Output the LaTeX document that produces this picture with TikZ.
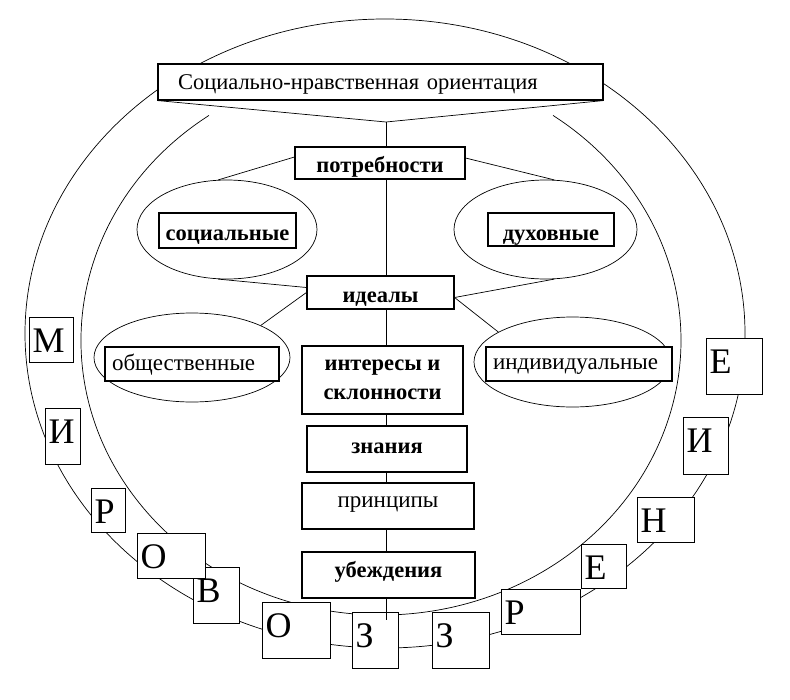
\documentclass[tikz,border=0pt]{standalone}
\usepackage{fontspec}
\setmainfont{Liberation Serif}
\usetikzlibrary{positioning,shapes.geometric,backgrounds}
\tikzset{
  mbox/.style  ={draw, fill=white, line width=1.1pt, inner sep=0pt, text depth=0pt,
                 font=\fontsize{23}{29}\selectfont},
  mbold/.style ={mbox, font=\fontsize{22.5}{29}\selectfont\bfseries},
  moval/.style ={draw, ellipse, line width=0.7pt, inner sep=0pt},
  mlet/.style  ={draw, fill=white, line width=1.1pt, anchor=north west, align=left,
                 inner xsep=3pt, inner ysep=0pt, text height=25pt, text depth=0pt,
                 font=\fontsize{36}{36}\selectfont},
  mtall/.style ={mlet, text height=13pt},
  mln/.style   ={line width=0.7pt},
}

\begin{document}
\begin{tikzpicture}[x=1pt, y=1pt]
\useasboundingbox (0,0) rectangle (790,-699);

\node[mbox, text width=405pt, inner xsep=20pt, minimum height=36pt, align=left,
      text height=14pt, font=\fontsize{22.5}{28}\selectfont] (orient) at (380.5,-82)
  {Социально-нравственная ориентация};
\coordinate (vtip) at (386,-122);

\node[mbold, minimum width=170pt, minimum height=32pt, text height=18pt] (potr)
  at (380,-163) {потребности};
\node[moval, minimum width=180pt, minimum height=99pt] (socE) at (227,-229.5) {};
\node[mbold, minimum width=137pt, minimum height=35pt, text height=19pt] (soc)
  at (227.5,-230.5) {социальные};
\node[moval, minimum width=183pt, minimum height=99pt] (duhE) at (545.5,-229.5) {};
\node[mbold, minimum width=126pt, minimum height=33pt, text height=21pt] (duh)
  at (551,-229.5) {духовные};
\node[mbold, minimum width=147pt, minimum height=33pt, text height=19pt] (ideal)
  at (380.5,-292.5) {идеалы};
\node[moval, minimum width=196pt, minimum height=89pt] (obsE) at (192,-357.5) {};
\node[mbox, text width=160pt, inner xsep=7pt, minimum height=34pt, align=left,
      text height=12pt] (obs) at (192,-364) {общественные};
\node[moval, minimum width=197pt, minimum height=90pt] (indE) at (572.5,-362) {};
\node[mbox, text width=172pt, inner xsep=7pt, minimum height=34pt, align=left,
      text height=10pt] (ind) at (579,-364) {индивидуальные};
\node[mbold, minimum width=161pt, minimum height=68pt, align=center, text depth=] (inter)
  at (382.5,-380) {интересы и\\склонности};
\node[mbold, minimum width=160pt, minimum height=46pt, text height=8pt] (znan)
  at (387,-449) {знания};
\node[mbox, minimum width=172pt, minimum height=46pt, text height=2pt] (princ)
  at (388,-506) {принципы};
\node[mbold, minimum width=173pt, minimum height=46pt, text height=4pt] (ubezh)
  at (388.5,-575) {убеждения};
\coordinate (zend) at (386,-620);

\node[mlet, text width=38pt, minimum height=45pt] (lm) at (29,-317) {М};
\node[mtall, text width=29pt, minimum height=56pt] (li) at (45,-408) {И};
\node[mlet, text width=28pt, minimum height=44pt] (lr) at (91,-488) {Р};
\node[mtall, text width=40pt, minimum height=56pt] (lv) at (193,-567) {В};
\node[mlet, text width=62pt, minimum height=45pt] (lo) at (137,-533) {О};
\node[mtall, text width=62pt, minimum height=56pt] (lo2) at (262,-602) {О};
\node[mtall, text width=40pt, minimum height=56pt] (lz) at (352,-612) {З};
\node[mtall, text width=51pt, minimum height=56pt] (lz2) at (432,-612) {З};
\node[mlet, text width=73pt, minimum height=45pt] (lr2) at (501,-589) {Р};
\node[mlet, text width=39pt, minimum height=44pt] (le) at (581,-544) {Е};
\node[mlet, text width=51pt, minimum height=45pt] (ln) at (637,-497) {Н};
\node[mtall, text width=39pt, minimum height=57pt] (li2) at (683,-417) {И};
\node[mtall, text width=50pt, minimum height=56pt] (le2) at (706,-338) {Е};

\draw[mln] (orient.south west) -- (vtip) -- (orient.south east);
\draw[mln] (vtip) -- (potr.north -| vtip);
\draw[mln] (potr.south -| vtip) -- (ideal.north -| vtip);
\draw[mln] (ideal.south -| vtip) -- (inter.north -| vtip);
\draw[mln] (inter.south -| vtip) -- (znan.north -| vtip);
\draw[mln] (znan.south -| vtip) -- (princ.north -| vtip);
\draw[mln] (princ.south -| vtip) -- (ubezh.north -| vtip);
\draw[mln] (ubezh.south -| vtip) -- (zend);

\draw[mln] ([yshift=6pt]potr.west) -- (socE.100);
\draw[mln] ([yshift=5pt]potr.east) -- (duhE.80);
\draw[mln] (socE.260) -- ([yshift=5pt]ideal.west);
\draw[mln] (ideal.west) -- (obsE.25);
\draw[mln] ([yshift=-5pt]ideal.east) -- (duhE.280);
\draw[mln] ([yshift=-5pt]ideal.east) -- (indE.158);

\begin{scope}[on background layer]
\draw[mln] (385,-333.5) ellipse [x radius=360, y radius=314.5];
\draw[mln] (381,-340.4) ++(125:300 and 274.6)
  arc [start angle=125, end angle=415, x radius=300, y radius=274.6];
\end{scope}

\end{tikzpicture}
\end{document}
